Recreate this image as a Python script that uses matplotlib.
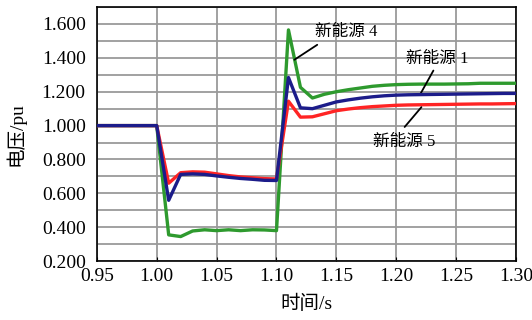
import numpy as np
import matplotlib
matplotlib.use("Agg")
import matplotlib.pyplot as plt

plt.rcParams['font.family'] = ['Liberation Serif', 'Noto Sans CJK SC']

# time axis (s)
t = [0.95, 0.96, 0.97, 0.98, 0.99, 1.00, 1.01, 1.02, 1.03, 1.04, 1.05, 1.06, 1.07,
     1.08, 1.09, 1.10, 1.11, 1.12, 1.13, 1.14, 1.15, 1.16, 1.17, 1.18, 1.19, 1.20,
     1.21, 1.22, 1.23, 1.24, 1.25, 1.26, 1.27, 1.28, 1.29, 1.30]

# voltage (pu)
v4 = [1.0, 1.0, 1.0, 1.0, 1.0, 1.0, 0.355, 0.345, 0.378, 0.385, 0.380, 0.385, 0.380,
      0.385, 0.384, 0.380, 1.565, 1.226, 1.163, 1.185, 1.200, 1.212, 1.222, 1.232,
      1.238, 1.242, 1.244, 1.245, 1.245, 1.245, 1.246, 1.247, 1.250, 1.250, 1.250, 1.250]
v1 = [1.0, 1.0, 1.0, 1.0, 1.0, 1.0, 0.559, 0.712, 0.715, 0.712, 0.703, 0.695, 0.688,
      0.683, 0.677, 0.676, 1.284, 1.105, 1.100, 1.120, 1.140, 1.152, 1.162, 1.170,
      1.176, 1.180, 1.182, 1.183, 1.184, 1.185, 1.186, 1.187, 1.188, 1.189, 1.190, 1.190]
v5 = [1.0, 1.0, 1.0, 1.0, 1.0, 1.0, 0.660, 0.722, 0.727, 0.725, 0.715, 0.705, 0.697,
      0.692, 0.687, 0.685, 1.144, 1.050, 1.052, 1.070, 1.088, 1.098, 1.106, 1.112,
      1.116, 1.120, 1.122, 1.123, 1.124, 1.125, 1.126, 1.127, 1.128, 1.128, 1.129, 1.130]

# label text, text position, pointer line start / end
labels = ['新能源 4', '新能源 1', '新能源 5']
label_pos = [(1.158, 1.553), (1.234, 1.395), (1.207, 0.905)]
line_from = [(1.134, 1.477), (1.231, 1.325), (1.207, 0.992)]
line_to = [(1.115, 1.389), (1.220, 1.185), (1.221, 1.109)]

fig = plt.figure(figsize=(5.32, 3.20), dpi=100)
ax = fig.add_axes([0.182, 0.184, 0.788, 0.794])

ax.plot(t, v4, color='#2e9a2e', linewidth=2.4, zorder=3)
ax.plot(t, v1, color='#1c1c8a', linewidth=2.4, zorder=4)
ax.plot(t, v5, color='#ff2424', linewidth=2.4, zorder=3)

ax.set_xlim(0.95, 1.30)
ax.set_ylim(0.2, 1.69)
ax.set_xticks(np.arange(0.95, 1.301, 0.05))
ax.set_xticklabels(['%.2f' % x for x in np.arange(0.95, 1.301, 0.05)])
ax.set_yticks(np.arange(0.2, 1.601, 0.2))
ax.set_yticklabels(['%.3f' % y for y in np.arange(0.2, 1.601, 0.2)])
ax.set_yticks(np.arange(0.3, 1.701, 0.2), minor=True)
ax.grid(True, which='both', axis='y', color='#9a9a9a', linewidth=1.3)
ax.grid(True, which='major', axis='x', color='#9a9a9a', linewidth=1.3)
ax.set_axisbelow(True)
ax.tick_params(axis='both', which='both', direction='in', length=3, labelsize=14, colors='black')
ax.tick_params(axis='x', pad=5)
ax.tick_params(axis='y', which='both', length=0, pad=8)
for s in ax.spines.values():
    s.set_linewidth(1.2)

ax.set_xlabel('时间/s', fontsize=14, labelpad=7)
ax.set_ylabel('电压/pu', fontsize=14, labelpad=12)

# labels with pointer lines
for lab, pos, a, b in zip(labels, label_pos, line_from, line_to):
    ax.text(pos[0], pos[1], lab, fontsize=12, ha='center', va='center')
    ax.annotate('', xy=b, xytext=a,
                arrowprops=dict(arrowstyle='-', color='black', linewidth=1.3,
                                shrinkA=0, shrinkB=0))

fig.savefig('out.png', dpi=100, facecolor='white')
